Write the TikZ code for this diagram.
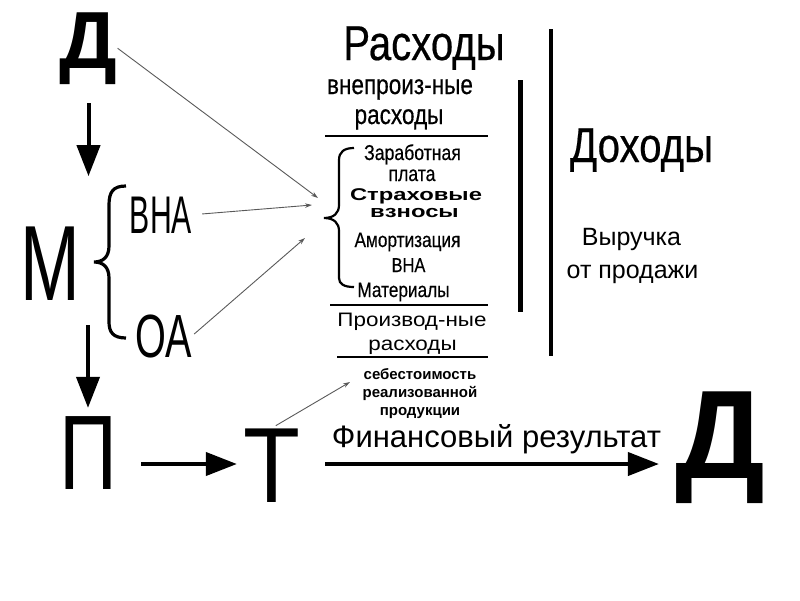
\documentclass[tikz,border=0pt]{standalone}
\usepackage{fontspec}
\setmainfont{Liberation Sans}
\newfontfamily\narrowfont[FakeStretch=0.82,FakeBold=0.4]{Liberation Sans}
\newfontfamily\widefont[FakeStretch=1.4]{Liberation Sans}
\newfontfamily\extfont[FakeStretch=1.15]{Liberation Sans}
\usetikzlibrary{arrows.meta}
\newcommand{\fsz}[1]{\fontsize{#1}{#1}\selectfont}

\begin{document}
\begin{tikzpicture}[x=1pt,y=-1pt,
  letter/.style={inner sep=0pt,anchor=base},
  bigarrow/.style={line width=4pt,-{Triangle[length=31pt,width=23pt]}},
  thinarrow/.style={black!65,line width=0.9pt,-{Stealth[length=7pt,width=4.5pt]}},
  bracestyle/.style={line width=3.2pt},
  rulestyle/.style={line width=1.8pt}]
\useasboundingbox (0,0) rectangle (800,600);
              %the big letters
\node[letter,font=\bfseries\fsz{81}] (dstart) at (88.5,68) {Д};
\node[letter,font=\fsz{107}] (mm) at (50,300) {\scalebox{0.67}[1]{М}};
\node[letter,font=\fsz{53}] (vna) at (161,233) {\scalebox{0.57}[1]{ВНА}};
\node[letter,font=\fsz{61}] (oa) at (163.5,357) {\scalebox{0.65}[1]{ОА}};
\node[letter,font=\fsz{106}] (pp) at (88,489) {\scalebox{0.76}[1]{П}};
\node[letter,font=\fsz{107}] (tt) at (271.5,502) {\scalebox{0.87}[1]{Т}};
\node[letter,font=\bfseries\fsz{126}] (dend) at (720,478) {Д};
              %expenses column
\node[letter,font=\narrowfont\fsz{49}] (rash) at (424,60) {Расходы};
\node[letter,font=\narrowfont\fsz{27.5}] (vne) at (400,94) {внепроиз-ные};
\node[letter,font=\narrowfont\fsz{27.5}] (vnerash) at (399,124) {расходы};
\node[letter,font=\narrowfont\fsz{21.5}] (zarp) at (412.5,160) {Заработная};
\node[letter,font=\narrowfont\fsz{21.5}] (plata) at (412,181) {плата};
\node[letter,font=\widefont\bfseries\fsz{17}] (strah) at (416,200) {Страховые};
\node[letter,font=\widefont\bfseries\fsz{17}] (vzn) at (414.5,217) {взносы};
\node[letter,font=\narrowfont\fsz{21}] (amort) at (407.5,247) {Амортизация};
\node[letter,font=\narrowfont\fsz{20}] (amvna) at (408.5,272) {ВНА};
\node[letter,font=\narrowfont\fsz{21}] (mat) at (403.5,297) {Материалы};
\node[letter,font=\extfont\fsz{19.5}] (proizv) at (412,326) {Производ-ные};
\node[letter,font=\extfont\fsz{19.5}] (prrash) at (412.5,350) {расходы};
\node[letter,font=\bfseries\fsz{15},align=center] (cost) at (420,415)
  {себестоимость\\[3pt]реализованной\\[3pt]продукции};
\node[letter,font=\fsz{31}] (finres) at (496.5,447) {Финансовый результат};
              %income column
\node[letter,font=\narrowfont\fsz{49}] (doh) at (641.5,162) {Доходы};
\node[letter,font=\fsz{25}] (vyr) at (631.5,245) {Выручка};
\node[letter,font=\fsz{25}] (otpr) at (632.5,278) {от продажи};
              %braces and rules
\draw[bracestyle] (126,186) .. controls (113,186) and (109,192) .. (109,205)
  -- (109,246) .. controls (109,257) and (103,262) .. (94,262)
  .. controls (103,262) and (109,267) .. (109,278)
  -- (109,322) .. controls (109,332) and (113,338) .. (126,338);
\draw[bracestyle,line width=2.2pt] (354,148) .. controls (344,148) and (339,152) .. (339,160)
  -- (339,205) .. controls (339,213) and (334,218) .. (324,218)
  .. controls (334,218) and (339,223) .. (339,231)
  -- (339,278) .. controls (339,284) and (344,287) .. (354,287);
\draw[rulestyle] (325,136) -- (488,136);
\draw[rulestyle] (330,305) -- (488,305);
\draw[rulestyle] (337,357) -- (488,357);
\draw[line width=5pt] (520,80) -- (520,312);
\draw[line width=4pt] (551,29) -- (551,356);
              %arrows
\coordinate (in1) at (318,198);
\coordinate (in2) at (312,205);
\coordinate (in3) at (305,238);
\coordinate (out1) at (350,382);
\draw[thinarrow] (dstart.east) -- (in1);
\draw[thinarrow,shorten <=10pt] (vna.east) -- (in2);
\draw[thinarrow,shorten <=3pt] (oa.east) -- (in3);
\draw[thinarrow,shorten <=5pt] (tt.north) -- (out1);
\draw[bigarrow,shorten <=19pt,shorten >=50pt] (dstart.south) -- (dstart.south |- mm.north);
\draw[bigarrow,shorten <=25pt,shorten >=8pt] (mm.south -| pp.north) -- (pp.north);
\draw[bigarrow,shorten <=24pt,shorten >=6pt] (pp.east |- 0,464) -- (tt.west |- 0,464);
\draw[bigarrow,shorten <=25pt,shorten >=16pt] (tt.east |- 0,464) -- (dend.west |- 0,464);
\end{tikzpicture}
\end{document}
